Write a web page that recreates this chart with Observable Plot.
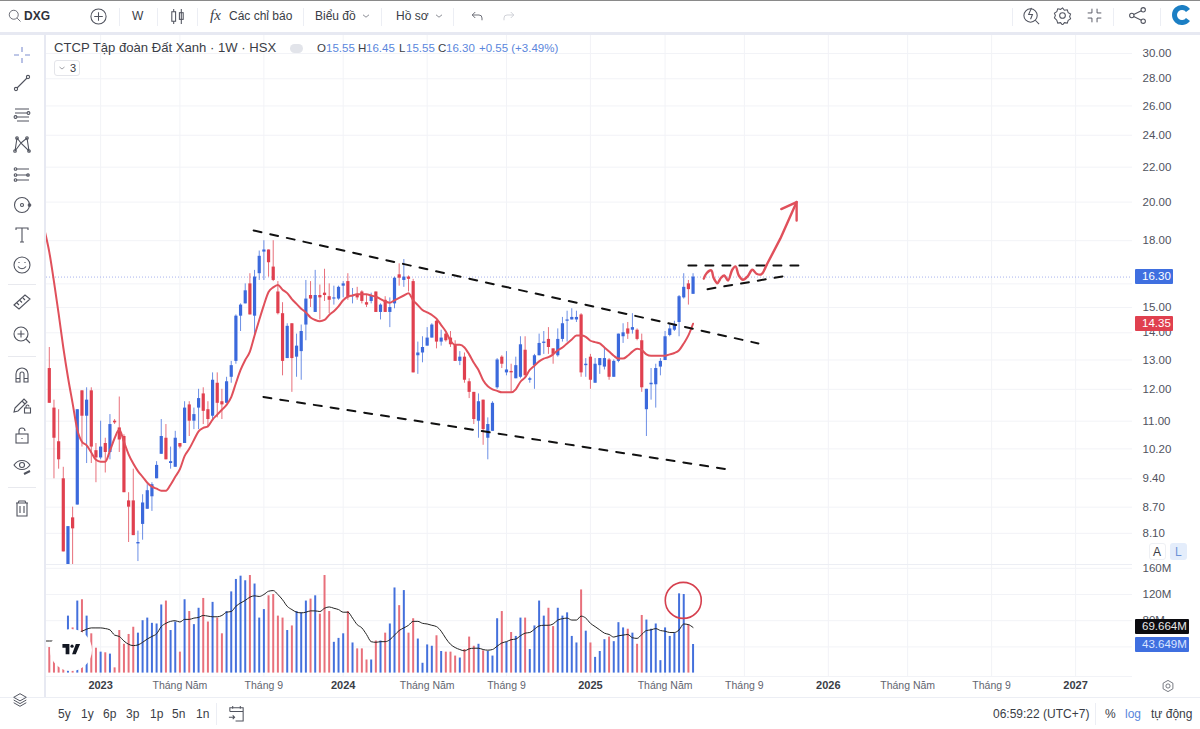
<!DOCTYPE html>
<html lang="vi">
<head>
<meta charset="utf-8">
<title>DXG</title>
<script src="https://cdn.jsdelivr.net/npm/d3@7"></script>
<script src="https://cdn.jsdelivr.net/npm/@observablehq/plot@0.6"></script>
<style>
  html, body { margin: 0; padding: 0; background: #fff; }
  #page { position: relative; width: 1200px; height: 729px; overflow: hidden; background: #fff;
          font-family: "Liberation Sans", Arial, sans-serif; color: #2f323b; }
  #page > div, #page > span, #page > svg { position: absolute; }
  .t { white-space: nowrap; line-height: 1; }
  .tag { color: #fff; font-size: 11.5px; border-radius: 1px; box-sizing: border-box; line-height: 15px; }
</style>
</head>
<body>
<div id="page"></div>
<script>
// weekly candles (bar 0 = first visible week)
const opens = [12.70,11.40,10.40,9.40,7.30,8.45,8.75,11.95,11.15,11.95,10.15,9.95,10.35,10.10,11.00,10.80,10.55,8.85,8.85,7.87,
  8.30,8.65,8.95,9.40,10.05,10.50,9.80,9.70,10.35,10.35,11.50,11.00,11.40,11.85,11.35,11.15,12.20,11.60,11.55,12.40,
  12.95,14.65,15.15,16.00,14.65,16.45,17.45,17.55,16.75,15.65,14.75,13.05,14.35,13.10,13.30,14.30,15.50,14.80,15.50,15.60,
  15.45,15.35,15.35,15.90,16.10,15.45,15.55,15.65,15.20,15.25,15.65,14.80,15.30,14.80,15.15,16.40,16.15,16.30,16.10,13.15,
  13.25,13.50,13.80,14.45,13.65,13.95,13.80,13.55,12.95,13.10,12.25,11.90,11.00,11.65,10.50,10.70,12.05,13.10,12.55,12.60,
  12.35,12.40,13.35,12.30,12.80,13.15,13.60,13.75,13.40,13.15,13.75,14.45,14.50,14.50,14.70,12.80,13.10,12.20,12.80,12.75,
  13.00,12.40,12.95,13.85,14.15,14.10,14.10,13.70,11.35,12.15,12.15,12.75,12.98,13.90,14.10,14.40,15.40,16.00,15.55];
const highs = [13.45,11.65,11.35,9.70,8.25,8.70,11.35,11.95,12.05,12.05,10.35,11.00,10.50,11.20,11.05,11.75,10.60,9.05,9.65,8.15,
  9.00,9.25,9.30,9.85,11.05,10.90,10.25,10.70,10.35,11.60,11.60,11.40,12.00,12.05,11.60,12.55,12.55,12.00,12.40,12.95,
  14.70,15.15,16.00,16.45,16.60,17.50,18.00,17.55,18.00,16.10,15.20,14.35,14.35,13.95,14.30,16.15,16.10,16.60,15.95,16.65,
  16.00,15.90,15.90,16.10,16.45,15.80,15.85,15.70,15.50,15.60,15.65,15.15,15.45,15.40,16.30,16.90,17.10,16.35,16.20,13.65,
  13.85,14.20,14.35,14.50,14.10,14.00,14.05,13.70,13.30,13.25,12.35,11.90,11.85,11.65,11.10,11.60,13.05,13.15,13.30,12.85,
  13.10,13.85,13.85,12.40,13.20,13.95,14.05,14.20,13.40,14.15,14.60,14.85,14.95,14.85,14.75,13.05,13.20,13.05,13.05,13.45,
  13.05,13.00,13.95,14.35,14.40,14.75,14.15,13.95,12.00,12.70,12.85,13.05,14.05,14.35,14.45,15.50,16.45,16.15,16.45];
const lows = [11.55,9.40,9.65,7.70,7.30,7.30,8.75,10.25,9.80,9.80,9.30,9.90,9.55,9.90,10.90,10.10,9.05,7.90,8.05,7.50,
  7.95,8.65,8.60,9.40,10.05,9.90,9.65,9.70,10.20,10.35,10.55,10.75,10.75,10.90,10.80,11.00,11.10,11.05,11.55,12.20,
  12.85,14.05,15.15,14.70,13.90,16.15,16.15,16.30,16.10,14.70,12.45,13.05,11.90,12.40,12.30,13.70,15.00,14.80,14.50,15.25,
  14.75,15.10,15.30,15.40,15.30,15.15,15.30,15.15,15.00,15.15,14.80,14.50,14.80,14.20,14.95,15.90,15.85,15.65,12.55,12.50,
  12.90,13.50,13.80,13.40,13.50,13.65,13.45,12.95,12.80,12.20,11.70,10.90,10.50,10.30,9.90,10.70,12.00,12.70,12.45,11.90,
  12.35,12.35,12.45,12.20,12.00,13.15,13.20,13.20,12.85,13.10,13.65,13.65,14.50,14.40,12.40,12.40,12.00,12.20,12.50,12.65,
  12.30,12.40,12.90,13.60,13.75,13.95,13.70,11.90,10.55,11.65,11.40,12.45,12.98,13.85,14.05,13.85,15.35,15.10,15.55];
const closes = [11.55,10.50,9.90,7.70,8.25,8.20,11.35,11.15,11.65,10.25,9.95,10.25,10.10,10.90,10.95,10.45,9.05,8.70,8.05,7.90,
  8.80,9.10,9.25,9.75,10.55,9.90,9.85,10.50,10.25,11.40,11.00,11.20,11.70,11.30,11.05,12.30,11.55,11.50,12.25,12.80,
  14.65,15.10,15.70,14.70,16.30,17.25,17.55,16.95,16.15,14.75,12.95,14.25,13.05,13.50,14.05,15.35,15.35,15.50,15.40,15.50,
  15.30,15.40,15.85,16.00,15.40,15.50,15.40,15.25,15.10,15.50,14.80,15.10,14.80,15.00,16.25,16.25,16.30,16.20,12.55,13.25,
  13.45,13.80,14.30,13.65,13.80,13.70,13.55,12.95,13.10,12.30,11.90,11.05,11.60,10.75,10.90,11.55,13.00,12.85,12.65,12.55,
  12.80,13.55,12.45,12.35,13.15,13.60,13.65,13.45,13.20,13.75,14.35,14.50,14.60,14.60,12.55,12.85,12.30,12.85,13.05,13.05,
  12.40,12.95,13.95,14.00,13.95,14.20,13.75,12.05,12.00,12.20,12.70,12.95,13.85,14.15,14.30,15.45,15.85,15.75,16.30];
// moving averages start one week before the first visible bar
const priceMa = [18.50,17.45,16.10,14.75,13.45,12.40,11.55,10.75,10.40,10.30,10.10,9.90,9.85,9.85,10.15,10.50,10.75,10.40,10.05,9.80,9.60,
  9.45,9.30,9.20,9.15,9.10,9.10,9.25,9.45,9.65,10.00,10.20,10.45,10.70,10.80,10.85,11.05,11.20,11.35,11.50,11.75,
  12.20,12.65,13.00,13.30,13.90,14.50,15.10,15.65,15.85,15.95,15.75,15.60,15.35,15.15,14.95,14.80,14.60,14.50,14.45,14.50,
  14.70,14.85,15.05,15.30,15.45,15.50,15.55,15.55,15.55,15.50,15.45,15.35,15.25,15.20,15.30,15.40,15.50,15.60,15.30,15.10,
  14.90,14.80,14.70,14.55,14.30,14.05,13.70,13.55,13.55,13.45,13.20,12.90,12.65,12.30,12.10,12.00,11.95,11.90,11.90,11.90,
  12.00,12.25,12.40,12.65,12.80,12.95,13.05,13.10,13.20,13.35,13.45,13.60,13.75,13.90,13.90,13.85,13.70,13.65,13.60,13.45,
  13.30,13.15,13.05,13.05,13.15,13.30,13.40,13.35,13.20,13.15,13.15,13.15,13.15,13.20,13.25,13.35,13.60,13.90,14.35];
// volume in millions and its moving average
const volumes = [39,48,25,18,87,69,110,112,87,60,38,32,31,29,8,65,44,59,70,61,
  80,84,76,75,104,110,65,78,32,112,94,74,99,114,78,108,84,60,94,124,
  143,148,141,149,136,84,97,118,120,87,84,65,72,94,92,110,113,118,90,149,
  94,47,53,60,94,46,37,37,20,20,49,49,61,75,130,103,126,61,83,52,
  15,43,41,57,33,32,32,26,23,36,55,41,44,34,33,26,83,94,47,62,
  56,84,84,36,72,110,87,99,71,99,87,92,56,46,127,64,46,24,33,51,
  55,48,77,69,67,61,44,88,81,67,75,19,69,56,61,121,120,74,43.649];
const volumeMa = [49,49,49,47,46,46,50,60,64,67,69,69,69,68,66,58,56,49,44,42,43,
  47,52,56,60,71,76,79,80,78,82,82,84,85,88,87,86,86,88,93,94,
  102,107,111,116,118,117,120,125,126,120,112,102,97,93,92,93,95,95,94,99,
  101,99,97,93,93,84,74,69,59,48,47,48,48,51,58,65,69,73,79,79,
  76,75,73,71,64,53,44,39,36,34,37,38,38,36,35,36,41,46,48,51,
  52,57,61,62,67,72,73,73,75,81,83,84,81,81,87,84,76,71,66,61,
  59,55,57,58,59,54,53,59,65,66,68,65,64,62,62,66,75,74,69.664];

const priceTicks = [30,28,26,24,22,20,18,15,14,13,12,11,10.2,9.4,8.7,8.1];
const priceGrid = [30,28,26,24,22,20,18,16,15,14,13,12,11,10.2,9.4,8.7,8.1];
const volumeTicks = [160,120,80];
const volumeGrid = [160,120,80,40];
const yearTicks = [11,63,116,167,220];
const yearLabels = ["2023","2024","2025","2026","2027"];
const monthTicks = [28,46,81,98,132,149,184,202];
const monthLabels = ["Tháng Năm","Tháng 9","Tháng Năm","Tháng 9","Tháng Năm","Tháng 9","Tháng Năm","Tháng 9"];

// hand-drawn trend lines, bar index against price
const upperTrend = [[43.8,18.51],[152,13.6]];
const lowerTrend = [[45.9,11.75],[145.2,9.65]];
const flagTop = [[137,16.82],[161,16.82]];
const flagBottom = [[141.1,15.77],[158.4,16.37]];
const waveIdx = [140.3,140.9,141.9,142.4,143.2,144,144.7,145.5,146.4,147.1,147.8,148.7,149.7,150.7,151.6,152.6,153.7];
const wavePrice = [16.23,16.47,16.60,16.27,16.03,16.27,16.37,16.15,16.63,16.78,16.37,16.18,16.33,16.63,16.45,16.42,16.82];
const arrowIdx = [153.7,156.7,160.2];
const arrowPrice = [16.82,18.10,20.0];
const arrowHead = [[156.9,19.62],[160.2,20.0],[160.2,19.02]];

const BLUE = "#3b69dc", RED = "#e0404f", VBLUE = "#4470dc", VRED = "#e8707b";
const MA_RED = "#e0505b", GRID = "#f2f3f7", INK = "#50535e";
const page = document.getElementById("page");

const bars = closes.map((c, i) => ({
  i, open: opens[i], high: highs[i], low: lows[i], close: c,
  vol: volumes[i], up: c > opens[i]
}));
const maRows = priceMa.map((v, i) => ({ i: i - 1, v }));
const volMaRows = volumeMa.map((v, i) => ({ i: i - 1, v }));
const colorOf = d => (d.up ? BLUE : RED);

const xDomain = [-0.6, 232.2];
const trendStyle = { x: d => d[0], y: d => d[1], stroke: "#111", strokeWidth: 2, strokeDasharray: "8 9" };
const font = { fontFamily: '"Liberation Sans", Arial, sans-serif', fontSize: "11.5px", color: INK, background: "transparent" };

const priceChart = Plot.plot({
  width: 1200, height: 529,
  marginLeft: 46, marginRight: 68, marginTop: 0, marginBottom: 0,
  style: font,
  x: { type: "linear", domain: xDomain, axis: null },
  y: { type: "log", domain: [7.44, 31.51] },
  marks: [
    Plot.ruleY(priceGrid, { stroke: GRID }),
    Plot.ruleX(yearTicks.concat(monthTicks), { stroke: GRID }),
    Plot.ruleY([closes[closes.length - 1]], { stroke: "#a9b4ee", strokeDasharray: "1 2" }),
    // wicks then bodies
    Plot.ruleX(bars, { x: "i", y1: "low", y2: "high", stroke: colorOf, strokeWidth: 1, strokeOpacity: 0.75, clip: true }),
    Plot.ruleX(bars, { x: "i", y1: "open", y2: "close", stroke: colorOf, strokeWidth: 3.2, clip: true }),
    Plot.line(maRows, { x: "i", y: "v", stroke: MA_RED, strokeWidth: 2, curve: "monotone-x", clip: true }),
    Plot.line(upperTrend, trendStyle),
    Plot.line(lowerTrend, trendStyle),
    Plot.line(flagTop, trendStyle),
    Plot.line(flagBottom, trendStyle),
    Plot.line(waveIdx.map((x, k) => [x, wavePrice[k]]), { x: d => d[0], y: d => d[1], stroke: MA_RED, strokeWidth: 2.4, curve: "catmull-rom" }),
    Plot.line(arrowIdx.map((x, k) => [x, arrowPrice[k]]), { x: d => d[0], y: d => d[1], stroke: MA_RED, strokeWidth: 2.4 }),
    Plot.line(arrowHead, { x: d => d[0], y: d => d[1], stroke: MA_RED, strokeWidth: 2.4 }),
    Plot.axisY({ anchor: "right", ticks: priceTicks, tickFormat: d => d.toFixed(2), tickSize: 0, tickPadding: 10, label: null })
  ]
});
priceChart.style.position = "absolute";
priceChart.style.left = "0";
priceChart.style.top = "35px";
page.appendChild(priceChart);

// the top margin leaves room for the 160M label, which sits on the pane edge
const volumeChart = Plot.plot({
  width: 1200, height: 142,
  marginLeft: 46, marginRight: 68, marginTop: 10, marginBottom: 21,
  style: font,
  x: { type: "linear", domain: xDomain, axis: null },
  y: { domain: [-5.2, 164.3] },
  marks: [
    Plot.ruleY(volumeGrid, { stroke: GRID }),
    Plot.ruleX(yearTicks.concat(monthTicks), { stroke: GRID }),
    Plot.ruleX(bars, { x: "i", y1: 0, y2: "vol", stroke: d => (d.up ? VBLUE : VRED), strokeWidth: 2 }),
    Plot.line(volMaRows, { x: "i", y: "v", stroke: "#222", strokeWidth: 1, curve: "monotone-x", clip: true }),
    Plot.dot([[135.9, 111]], { x: d => d[0], y: d => d[1], r: 18, stroke: "#d6404e", strokeWidth: 1.6, fill: "none" }),
    Plot.axisY({ anchor: "right", ticks: volumeTicks, tickFormat: d => d + "M", tickSize: 0, tickPadding: 10, label: null }),
    Plot.axisX({ ticks: monthTicks, tickFormat: d => monthLabels[monthTicks.indexOf(d)], tickSize: 0, tickPadding: 5, label: null, fill: "#62656f", fontSize: 10.5 }),
    Plot.axisX({ ticks: yearTicks, tickFormat: d => yearLabels[yearTicks.indexOf(d)], tickSize: 0, tickPadding: 5, label: null, fontWeight: "bold", fill: "#3a3d46", fontSize: 11 })
  ]
});
volumeChart.style.position = "absolute";
volumeChart.style.left = "0";
volumeChart.style.top = "555px";
page.appendChild(volumeChart);

// ---- terminal chrome around the two panes ----
function box(x, y, w, h, bg, extra) {
  const d = document.createElement("div");
  d.style.cssText = `left:${x}px;top:${y}px;width:${w}px;height:${h}px;background:${bg};${extra || ""}`;
  page.appendChild(d);
  return d;
}
function text(s, x, y, size, color, extra) {
  const d = document.createElement("span");
  d.className = "t";
  d.textContent = s;
  d.style.cssText = `left:${x}px;top:${y}px;font-size:${size}px;color:${color || "#3a3d46"};${extra || ""}`;
  page.appendChild(d);
  return d;
}
function icon(cx, cy, body, size, color) {
  const s = size || 20;
  const ns = "http://www.w3.org/2000/svg";
  const g = document.createElementNS(ns, "svg");
  g.setAttribute("viewBox", "0 0 20 20");
  g.setAttribute("width", s);
  g.setAttribute("height", s);
  g.style.cssText = `left:${cx - s / 2}px;top:${cy - s / 2}px;fill:none;stroke:${color || INK};stroke-width:1.1;`;
  g.innerHTML = body;
  page.appendChild(g);
}

box(0, 0, 1200, 1, "#8a8a8a");
box(0, 32, 1200, 3, "#e7e9f2");
box(44, 35, 2, 662, "#e7e9f2");
box(46, 564, 1086, 1, "#eceef4");
box(0, 697, 1200, 1, "#eceef4");
box(46, 676, 1086, 1, "#f2f3f7");
[119, 157, 197, 303, 381, 453, 1012, 1113, 1160].forEach(x => box(x, 8, 1, 18, "#eceef4"));
[284, 356, 487].forEach(y => box(8, y, 28, 1, "#e8e9ee"));
box(216, 703, 1, 22, "#eceef4");
box(1095, 703, 1, 22, "#eceef4");

// top toolbar
icon(14, 15, '<circle cx="9" cy="9" r="6"/><path d="M13.5 13.5 18 18"/>', 15);
text("DXG", 24, 10, 12, "#2f323b", "font-weight:bold;");
icon(98, 16, '<circle cx="10" cy="10" r="8"/><path d="M10 5.5v9M5.5 10h9"/>', 19);
text("W", 132, 10, 12);
icon(177, 16, '<rect x="4" y="5" width="4" height="10"/><path d="M6 2v3M6 15v3M14 2v16"/><rect x="12" y="6" width="4" height="7"/>', 19);
text("fx", 210, 8, 15, "#3a3d46", "font-family:'Liberation Serif',serif;font-style:italic;");
text("Các chỉ báo", 229, 10, 12);
text("Biểu đồ", 315, 10, 12);
icon(366, 16, '<path d="M5 8l5 4 5-4"/>', 12);
text("Hồ sơ", 396, 10, 12);
icon(439, 16, '<path d="M5 8l5 4 5-4"/>', 12);
icon(477, 16, '<path d="M7 4 3 8l4 4M3 8h9a4 4 0 0 1 4 4v3"/>', 15);
icon(508, 16, '<path d="M13 4l4 4-4 4M17 8H8a4 4 0 0 0-4 4v3"/>', 15, "#c6c8d0");
icon(1031, 15, '<circle cx="9" cy="10" r="7"/><path d="M14 15l4 4M10 2 7 9h4l-2 5"/>', 19);
icon(1062, 15, '<circle cx="10" cy="10" r="3"/><path d="M10 2l2 2.5 3-.5 1 3 2.5 1.5-1 2.5 1 2.5-2.5 1.5-1 3-3-.5-2 2.5-2-2.5-3 .5-1-3L1.500 12.500l1-2.500-1-2.500L4 6l1-3 3 .5z"/>', 19);
icon(1094, 15, '<path d="M7 2v5H2M13 2v5h5M7 18v-5H2M13 18v-5h5"/>', 17);
icon(1137, 15, '<circle cx="4" cy="10" r="2.300"/><circle cx="16" cy="4" r="2.300"/><circle cx="16" cy="16" r="2.300"/><path d="M6 9l8-4M6 11l8 4"/>', 19);
icon(1182, 15, '<path d="M16 5.500a7.500 7.500 0 1 0 0 9" stroke="#1c7fc4" stroke-width="5"/>', 20);

// left drawing tools
const tools = [
  [55, '<path d="M10 2v5M10 13v5M2 10h5M13 10h5" stroke="#7f8fd0"/>'],
  [83, '<circle cx="4" cy="16" r="1.600"/><circle cx="16" cy="4" r="1.600"/><path d="M5 15 15 5"/>'],
  [115, '<path d="M3 4h14M3 8h12M5 12h12M5 16h12"/><circle cx="16.500" cy="8" r="1.400"/><circle cx="3.500" cy="12" r="1.400"/>'],
  [145, '<path d="M5 3 3 16l6-8 8 8-2-13-6 5z"/><circle cx="5" cy="3" r="1.300"/><circle cx="15" cy="3" r="1.300"/><circle cx="3" cy="16" r="1.300"/><circle cx="17" cy="16" r="1.300"/>'],
  [175, '<path d="M5 4h12M5 10h12M5 15h12"/><circle cx="3.500" cy="4" r="1.300"/><circle cx="3.500" cy="10" r="1.300"/><circle cx="3.500" cy="15" r="1.300"/><circle cx="16" cy="10" r="1.300"/>'],
  [205, '<circle cx="10" cy="10" r="7.500"/><circle cx="10" cy="10" r="1.500"/><circle cx="17.500" cy="10" r="1.300"/>'],
  [235, '<path d="M4 5V3h12v2M10 3v14M8 17h4"/>'],
  [265, '<circle cx="10" cy="10" r="8"/><path d="M6 11.500c2 3 6 3 8 0M7 7v1M13 7v1"/>'],
  [302, '<path d="M2 13 13 3l5 4L7 17zM5 11l2 2M8 8.500l2 2M11 6l2 2"/>'],
  [335, '<circle cx="9" cy="9" r="7"/><path d="M14 14l4 4M9 5.500v7M5.500 9h7"/>'],
  [375, '<path d="M4 17V9a6 6 0 0 1 12 0v8h-4V9a2 2 0 0 0-4 0v8zM4 13.500h4M12 13.500h4"/>'],
  [405, '<path d="M3 13 12 4l3 3-9 9-4 1zM10 6l3 3"/><rect x="12.500" y="13" width="6" height="5"/><path d="M14 13v-1.500a1.500 1.500 0 0 1 3 0"/>'],
  [435, '<rect x="4" y="9" width="12" height="9"/><path d="M7 9V6a3 3 0 0 1 6 0M10 13v1"/>'],
  [467, '<path d="M2 8c4-6 12-6 16 0-4 6-12 6-16 0z"/><circle cx="10" cy="8" r="2.500"/><path d="M12 17l6-3" stroke-width="2"/>'],
  [508, '<path d="M4 5h12M6 5l1-2h6l1 2M5 5v13h10V5M8 8v7M12 8v7"/>']
];
tools.forEach(t => icon(22, t[0], t[1], 20));
icon(20, 700, '<path d="M10 3l7 4-7 4-7-4zM3 10l7 4 7-4M3 13l7 4 7-4"/>', 18);

// legend
text("CTCP Tập đoàn Đất Xanh · 1W · HSX", 54, 41, 13.1, "#3a3d46");
box(290, 44, 13, 9, "#e2e4ea", "border-radius:5px;");
text("O", 317, 42.5, 11.5, "#3a3d46");
text("15.55", 326, 42.5, 11.5, "#5a86dc");
text("H", 358, 42.5, 11.5, "#3a3d46");
text("16.45", 366, 42.5, 11.5, "#5a86dc");
text("L", 399, 42.5, 11.5, "#3a3d46");
text("15.55", 406, 42.5, 11.5, "#5a86dc");
text("C", 438, 42.5, 11.5, "#3a3d46");
text("16.30", 446, 42.5, 11.5, "#5a86dc");
text("+0.55 (+3.49%)", 479, 42.5, 11.5, "#5a86dc");
box(54, 60, 26, 16, "#fff", "border:1px solid #e4e5ea;border-radius:3px;box-sizing:border-box;");
icon(62, 68, '<path d="M5 8l5 4 5-4"/>', 10);
text("3", 70, 62.5, 11);

// logo in the volume pane
box(50, 629, 42, 42, "#fff", "border-radius:21px;");
const logo = document.createElementNS("http://www.w3.org/2000/svg", "svg");
logo.setAttribute("viewBox", "0 0 36 28");
logo.setAttribute("width", 20);
logo.setAttribute("height", 15);
logo.style.cssText = "left:61px;top:643px;";
logo.innerHTML = '<path d="M2 2h13v19H8V9H2zM27 2 20 21h7l8-19z" fill="#131722"/><circle cx="20" cy="6" r="3" fill="#131722"/>';
page.appendChild(logo);

// price and volume tags follow the scales of their charts
const py = priceChart.scale("y");
const vy = volumeChart.scale("y");
function tag(s, y, bg, w, color) {
  const d = box(1135, y - 7.5, w, 15, bg);
  d.className = "tag";
  d.textContent = s;
  d.style.paddingLeft = "7px";
  if (color) d.style.color = color;
}
tag("16.30", 35 + py.apply(closes[closes.length - 1]), "#3f6fe0", 38);
tag("14.35", 35 + py.apply(priceMa[priceMa.length - 1]), "#e0404f", 38);
tag("69.664M", 555 + vy.apply(volumeMa[volumeMa.length - 1]), "#0b0b0f", 54, "#e8e8e8");
tag("43.649M", 555 + vy.apply(volumes[volumes.length - 1]), "#3f6fe0", 54, "#dbe5ff");

box(1149, 543, 17, 17, "#fff", "border:1px solid #eef0f4;border-radius:3px;box-sizing:border-box;");
text("A", 1153, 546, 12);
box(1170, 543, 17, 17, "#e4edfb", "border-radius:3px;");
text("L", 1175, 546, 12, "#6d93d8");
icon(1168, 686, '<path d="M10 2l7 4v8l-7 4-7-4V6z"/><circle cx="10" cy="10" r="3"/>', 14);

// bottom bar
[["5y", 58], ["1y", 81], ["6p", 103], ["3p", 126], ["1p", 150], ["5n", 172], ["1n", 196]].forEach(b => text(b[0], b[1], 708, 12));
icon(236, 713, '<path d="M3 8V4h14v14H9M3 8h14M6 2v3M14 2v3M2 14h6M6 12l2 2-2 2"/>', 19);
text("06:59:22 (UTC+7)", 993, 708, 12);
text("%", 1105, 708, 12);
text("log", 1125, 708, 12, "#5a86dc");
text("tự động", 1151, 708, 12);
</script>
</body>
</html>
